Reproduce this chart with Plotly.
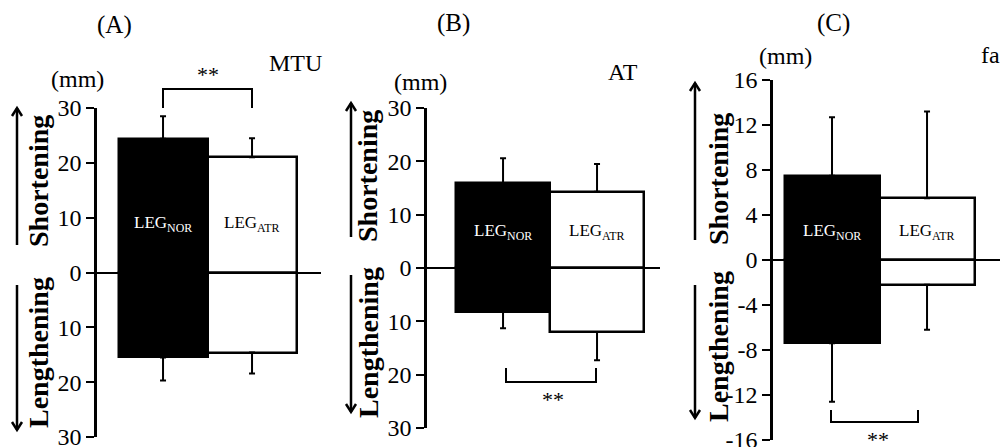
import plotly.graph_objects as go

W, H = 1000, 447

# ---------------- data ----------------
categories = ["LEG_NOR", "LEG_ATR"]
bar_labels = ["LEG<sub>NOR</sub>", "LEG<sub>ATR</sub>"]

mtu_short = [24.4, 21.0]
mtu_short_sd = [4.1, 3.5]
mtu_length = [-15.5, -14.6]
mtu_length_sd = [4.2, 3.8]

at_short = [15.9, 14.3]
at_short_sd = [4.7, 5.2]
at_length = [-8.2, -12.0]
at_length_sd = [3.1, 5.3]

fa_short = [7.5, 5.5]
fa_short_sd = [5.2, 7.7]
fa_length = [-7.4, -2.2]
fa_length_sd = [5.2, 4.0]

ticks_ab = [30, 20, 10, 0, -10, -20, -30]
ticktext_ab = ["30", "20", "10", "0", "10", "20", "30"]
ticks_c = [16, 12, 8, 4, 0, -4, -8, -12, -16]
ticktext_c = ["16", "12", "8", "4", "0", "-4", "-8", "-12", "-16"]

panel_letters = ["(A)", "(B)", "(C)"]
panel_names = ["MTU", "AT", "fa"]

# ---------------- styling / geometry (pixels) ----------------
FONT = "Liberation Serif"
fills = ["black", "white"]
text_colors = ["white", "black"]

panels = [
    dict(short=mtu_short, short_sd=mtu_short_sd, length=mtu_length, length_sd=mtu_length_sd,
         x0=97, x1=321, ytop=108, ybot=437, rng=[-30, 30], xr=[-0.742, 1.775],
         tv=ticks_ab, tt=ticktext_ab, label_y=8.9,
         letter=(114, 25), name=(295, 63), mm=(77, 79),
         bracket=dict(xa=163, xb=252, yh=89, yl=108), stars=(208, 74),
         arrow_x=17, up=(245, 108), down=(285, 430),
         txt_x=38, short_y=181, length_y=353),
    dict(short=at_short, short_sd=at_short_sd, length=at_length, length_sd=at_length_sd,
         x0=427, x1=660, ytop=108, ybot=428, rng=[-30, 30], xr=[-0.809, 1.670],
         tv=ticks_ab, tt=ticktext_ab, label_y=6.8,
         letter=(453, 23), name=(623, 72), mm=(420, 82),
         bracket=dict(xa=506, xb=596, yh=382, yl=368), stars=(553, 399),
         arrow_x=351, up=(237, 103), down=(275, 412),
         txt_x=368, short_y=176, length_y=343),
    dict(short=fa_short, short_sd=fa_short_sd, length=fa_length, length_sd=fa_length_sd,
         x0=773, x1=1000, ytop=80, ybot=440, rng=[-16, 16], xr=[-0.621, 1.768],
         tv=ticks_c, tt=ticktext_c, label_y=2.5,
         letter=(833, 23), name=(990, 55), mm=(785, 56),
         bracket=dict(xa=831, xb=918, yh=422, yl=410), stars=(878, 439),
         arrow_x=695, up=(240, 83), down=(285, 418),
         txt_x=718, short_y=179, length_y=347),
]


def px(x):
    return x / W


def py(y):
    return 1 - y / H


def note(x, y, text, font, **kw):
    return dict(x=px(x), y=py(y), xref="paper", yref="paper", text=text, showarrow=False,
                xanchor="center", yanchor="middle", font=font, **kw)


fig = go.Figure()
annotations = []
shapes = []

for i, p in enumerate(panels):
    n = "" if i == 0 else str(i + 1)
    xa, ya = "x" + n, "y" + n
    err_style = dict(type="data", symmetric=False, color="black", thickness=2, width=3)
    fig.add_trace(go.Bar(
        x=categories, y=p["short"], width=1,
        marker=dict(color=fills, line=dict(color="black", width=2.5)),
        error_y=dict(array=p["short_sd"], arrayminus=[0, 0], **err_style),
        xaxis=xa, yaxis=ya, showlegend=False))
    fig.add_trace(go.Bar(
        x=categories, y=p["length"], width=1,
        marker=dict(color=fills, line=dict(color="black", width=2.5)),
        error_y=dict(array=[0, 0], arrayminus=p["length_sd"], **err_style),
        xaxis=xa, yaxis=ya, showlegend=False))

    axkey = "xaxis" + n
    aykey = "yaxis" + n
    fig.update_layout(**{
        axkey: dict(domain=[px(p["x0"]), px(p["x1"])], range=p["xr"], visible=False,
                    anchor=ya, fixedrange=True, automargin=False),
        aykey: dict(domain=[py(p["ybot"]), py(p["ytop"])], range=p["rng"], anchor=xa,
                    tickvals=p["tv"], ticktext=p["tt"], ticks="outside", ticklen=8,
                    tickwidth=2, tickcolor="black", showline=True, linecolor="black",
                    linewidth=2.5, showgrid=False, zeroline=True, zerolinecolor="black",
                    zerolinewidth=2, tickfont=dict(family=FONT, size=24, color="black"),
                    ticklabeloverflow="allow", fixedrange=True, automargin=False),
    })

    # labels inside the bars
    for c, lab, tc in zip(categories, bar_labels, text_colors):
        annotations.append(dict(x=c, y=p["label_y"], xref=xa, yref=ya, text=lab,
                                showarrow=False, xanchor="center", yanchor="middle",
                                font=dict(family=FONT, size=17, color=tc)))

    big = dict(family=FONT, size=25, color="black")
    annotations.append(note(*p["letter"], panel_letters[i], big))
    annotations.append(note(*p["name"], panel_names[i], dict(family=FONT, size=24, color="black")))
    annotations.append(note(*p["mm"], "(mm)", dict(family=FONT, size=24, color="black")))
    annotations.append(note(*p["stars"], "**", dict(family=FONT, size=22, color="black")))
    bold = dict(family=FONT, size=28, color="black")
    annotations.append(note(p["txt_x"], p["short_y"], "<b>Shortening</b>", bold, textangle=-90))
    annotations.append(note(p["txt_x"], p["length_y"], "<b>Lengthening</b>", bold, textangle=-90))

    # significance bracket
    b = p["bracket"]
    shapes.append(dict(type="path", xref="paper", yref="paper",
                       path=f"M {px(b['xa'])},{py(b['yl'])} L {px(b['xa'])},{py(b['yh'])} "
                            f"L {px(b['xb'])},{py(b['yh'])} L {px(b['xb'])},{py(b['yl'])}",
                       line=dict(color="black", width=2)))

    # arrows
    ax_ = p["arrow_x"]
    for (ystart, ytip) in (p["up"], p["down"]):
        d = -1 if ytip < ystart else 1
        shapes.append(dict(type="line", xref="paper", yref="paper",
                           x0=px(ax_), x1=px(ax_), y0=py(ystart), y1=py(ytip),
                           line=dict(color="black", width=2.5)))
        shapes.append(dict(type="path", xref="paper", yref="paper",
                           path=f"M {px(ax_ - 5)},{py(ytip - d * 8)} L {px(ax_)},{py(ytip)} "
                                f"L {px(ax_ + 5)},{py(ytip - d * 8)}",
                           line=dict(color="black", width=2.5)))

fig.update_layout(
    width=W, height=H, margin=dict(l=0, r=0, t=0, b=0, autoexpand=False),
    paper_bgcolor="white", plot_bgcolor="white",
    barmode="relative", bargap=0,
    annotations=annotations, shapes=shapes,
    font=dict(family=FONT, color="black"),
)

fig.write_html("out.html")
